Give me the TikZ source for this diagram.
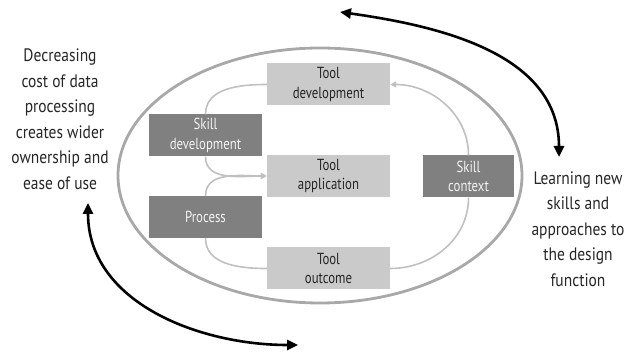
\documentclass[tikz,border=0pt]{standalone}
\usepackage{fontspec}
\setmainfont[FakeStretch=0.86]{PT Sans}
\newfontfamily\boxfont[FakeStretch=0.8]{PT Sans}
\usetikzlibrary{arrows.meta, positioning}

\definecolor{lightbox}{HTML}{CACACA}
\definecolor{darkbox}{HTML}{808080}
\definecolor{ringgray}{HTML}{A8A8A8}
\definecolor{flowgray}{HTML}{C0C0C0}

\begin{document}
\begin{tikzpicture}[
		x=1pt, y=1pt,
		toolbox/.style={
			fill=lightbox,
			align=center,
			inner sep=0pt,
			minimum width=123pt,
			minimum height=42pt,
			text=black!85,
			font=\boxfont\fontsize{16}{19.5}\selectfont
		},
		skillbox/.style={
			toolbox,
			fill=darkbox,
			minimum width=113pt,
			text=white!95!black
		},
		note/.style={align=center, text=black!85, font=\fontsize{18}{25.5}\selectfont},
		ring/.style={draw=ringgray, line width=2.8pt},
		flow/.style={draw=flowgray, line width=1.6pt},
		flowarrow/.style={flow, -{Triangle[length=6pt, width=6pt]}},
		bigarrow/.style={line width=2.6pt, {Triangle[length=11pt, width=10pt]}-{Triangle[length=11pt, width=10pt]}}
		]
		
		\useasboundingbox (0,0) rectangle (632,356);
		
		\draw[ring] (320,180.5) ellipse [x radius=202, y radius=127.5];
		
		\node[toolbox] (tooldev) at (328.5,271.5) {Tool\\development};
		\node[toolbox] (toolapp) at (328.5,180) {Tool\\application};
		\node[toolbox] (toolout) at (328.5,87.5) {Tool\\outcome};
		
		\node[skillbox] (skilldev) at (205.5,220.5) {Skill\\development};
		\node[skillbox] (process) at (205.5,139) {Process};
		\node[skillbox, minimum width=91pt] (skillctx) at (468.5,179.5) {Skill\\context};
		
		\node[note] (costnote) at (60,237) {Decreasing\\cost of data\\processing\\creates wider\\ownership and\\ease of use};
		\node[note] (learnnote) at (578,127) {Learning new\\skills and\\approaches to\\the design\\function};
		
		\draw[flow] (tooldev.west) to[out=180, in=90] (skilldev.north);
		\draw[flowarrow] (skilldev.south) to[out=-90, in=180] (toolapp.west);
		\draw[flowarrow] (process.north) to[out=90, in=180] (toolapp.west);
		\draw[flow] (process.south) to[out=-90, in=180] (toolout.west);
		\draw[flow] (toolout.east) to[out=0, in=-90] (skillctx.south);
		\draw[flowarrow] (skillctx.north) to[out=90, in=0] (tooldev.east);
		
		\coordinate (topend) at (340,344);
		\coordinate (rightend) at (559,199);
		\coordinate (leftend) at (88,153);
		\coordinate (bottomend) at (298,11);
		
		\draw[bigarrow] (topend) to[out=-8, in=90] (rightend);
		\draw[bigarrow] (leftend) to[out=-90, in=180] (bottomend);
		
	\end{tikzpicture}
\end{document}
